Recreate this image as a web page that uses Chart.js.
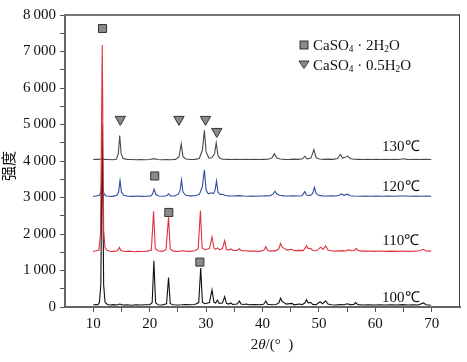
<!DOCTYPE html>
<html>
<head>
<meta charset="utf-8">
<script src="https://cdn.jsdelivr.net/npm/chart.js@4"></script>
<style>
  html, body { margin: 0; padding: 0; background: #fff; }
  #wrap { width: 467px; height: 362px; }
</style>
</head>
<body>
<div id="wrap"><canvas id="myChart" width="467" height="362"></canvas></div>
<script>
// 2theta / intensity pairs, one pair of arrays per temperature
const angles100 = [10.0,10.4,10.8,11.1,11.35,11.6,11.85,12.1,12.5,13.0,13.6,14.2,14.7,15.2,16.0,16.8,17.6,18.4,19.2,20.0,20.45,20.75,21.05,21.5,22.2,23.0,23.35,23.65,24.2,25.0,25.7,26.4,27.2,28.0,28.7,29.05,29.35,29.8,30.6,31.05,31.4,31.7,32.0,32.3,32.9,33.3,33.6,34.0,34.4,34.7,35.5,35.9,36.2,36.7,37.1,37.6,38.5,39.4,40.2,40.6,40.9,41.6,42.4,42.9,43.2,43.5,43.8,44.2,45.2,45.6,46.5,47.0,47.5,47.8,48.1,48.5,48.9,49.5,50.2,50.6,51.2,51.6,52.2,53.0,53.8,54.5,55.0,55.5,56.2,56.5,56.9,57.8,58.8,59.8,60.8,61.8,62.8,63.8,64.8,65.8,66.8,67.6,68.5,69.0,69.8];
const counts100 = [55,70,60,120,600,5000,600,130,70,55,65,55,80,55,60,50,60,55,60,65,120,1265,120,60,55,90,805,90,60,55,60,70,60,70,120,1065,130,90,120,470,130,110,190,100,110,285,100,80,110,70,80,165,80,70,80,60,65,60,75,165,75,60,70,110,240,150,120,80,100,60,80,65,110,200,110,130,70,65,145,90,165,80,60,55,65,60,90,65,70,120,65,55,60,55,60,55,60,55,65,55,60,55,110,60,50];

const angles110 = [10.0,10.5,11.0,11.3,11.6,11.85,12.1,12.5,13.2,14.0,14.4,14.65,14.9,15.6,16.4,17.2,18.0,18.8,19.6,20.3,20.7,21.0,21.5,22.2,22.9,23.35,23.65,24.2,25.0,25.6,26.4,27.2,28.0,28.6,29.0,29.3,29.8,30.6,31.05,31.4,31.7,32.0,32.4,32.9,33.3,33.6,34.0,34.4,34.8,35.5,35.9,36.3,37.0,37.8,38.6,39.4,40.2,40.6,40.9,41.6,42.4,42.9,43.2,43.5,43.9,44.3,45.2,45.6,46.5,47.2,47.5,47.8,48.1,48.5,48.9,49.6,50.3,50.7,51.2,51.6,52.4,53.2,54.0,54.8,55.2,55.7,56.3,56.6,57.0,57.8,58.8,59.8,60.8,61.8,62.8,63.8,64.8,65.8,66.8,67.8,68.5,69.0,69.9];
const counts110 = [1525,1540,1560,2000,7175,2100,1620,1545,1520,1530,1560,1630,1550,1520,1530,1515,1525,1520,1530,1560,2620,1600,1540,1525,1570,2455,1590,1530,1520,1540,1530,1525,1540,1600,2640,1620,1570,1600,1920,1610,1580,1620,1570,1600,1820,1580,1560,1590,1550,1550,1600,1545,1540,1530,1535,1525,1550,1650,1550,1530,1545,1600,1740,1640,1600,1560,1580,1540,1550,1545,1600,1675,1600,1610,1550,1540,1640,1580,1670,1560,1535,1530,1545,1535,1570,1540,1550,1610,1545,1530,1535,1525,1535,1525,1530,1525,1535,1525,1530,1540,1580,1535,1530];

const angles120 = [10.0,10.6,11.1,11.35,11.6,11.85,12.2,12.8,13.5,14.2,14.5,14.75,15.0,15.4,16.2,17.0,17.8,18.6,19.4,20.2,20.5,20.8,21.1,21.6,22.4,23.0,23.35,23.7,24.4,25.1,25.4,25.65,25.9,26.4,27.2,28.0,28.8,29.35,29.7,30.0,30.4,30.9,31.3,31.6,31.85,32.1,32.5,32.9,33.4,34.2,35.0,35.8,36.6,37.4,38.2,39.0,39.8,40.6,41.4,41.9,42.2,42.5,43.0,43.8,44.6,45.4,46.2,47.0,47.5,47.8,48.5,48.9,49.2,49.5,49.9,50.6,51.4,52.2,53.0,53.6,54.0,54.4,55.1,55.5,56.3,57.2,58.2,59.2,60.2,61.2,62.2,63.2,64.2,65.2,66.2,67.2,68.2,69.0,69.9];
const counts120 = [3030,3040,3060,3150,3400,3130,3050,3035,3030,3060,3150,3470,3150,3060,3035,3030,3040,3030,3035,3045,3090,3225,3080,3040,3035,3050,3100,3045,3040,3090,3200,3485,3150,3060,3045,3050,3080,3300,3760,3200,3100,3130,3110,3200,3455,3150,3080,3090,3055,3045,3040,3050,3040,3035,3040,3035,3040,3045,3050,3100,3170,3100,3060,3045,3040,3045,3040,3050,3160,3070,3060,3110,3280,3110,3060,3045,3040,3045,3040,3060,3100,3060,3090,3050,3040,3035,3040,3035,3040,3035,3040,3035,3040,3040,3035,3040,3035,3040,3035];

const angles130 = [10.0,10.7,11.3,11.6,11.9,12.6,13.4,14.1,14.45,14.7,14.95,15.3,16.0,16.8,17.6,18.4,19.2,20.0,20.8,21.4,22.2,23.0,23.8,24.6,25.2,25.6,25.9,26.4,27.2,28.0,28.8,29.35,29.7,30.0,30.5,31.0,31.5,31.8,32.1,32.5,33.0,33.8,34.6,35.4,36.2,37.0,37.8,38.6,39.4,40.2,41.0,41.7,42.1,42.5,43.1,43.9,44.7,45.5,46.3,47.1,47.5,47.9,48.6,49.1,49.5,50.1,50.9,51.7,52.5,53.3,53.8,54.2,54.7,55.1,55.5,56.2,57.0,57.8,58.6,59.4,60.2,61.0,61.8,62.6,63.4,64.2,65.0,65.6,66.4,67.2,68.0,68.8,69.9];
const counts130 = [4040,4045,4050,4080,4045,4040,4035,4050,4200,4700,4200,4070,4045,4040,4035,4040,4035,4040,4065,4040,4035,4040,4035,4045,4110,4470,4120,4055,4040,4045,4070,4300,4840,4250,4080,4090,4200,4500,4150,4070,4050,4045,4040,4045,4040,4045,4040,4045,4040,4045,4050,4090,4200,4090,4055,4045,4040,4050,4045,4060,4130,4060,4080,4310,4090,4055,4045,4050,4045,4070,4180,4080,4100,4140,4070,4050,4045,4040,4045,4040,4045,4040,4045,4040,4045,4040,4060,4045,4040,4045,4040,4045,4040];

// phase markers above the peaks
const dihydrateAngles = [11.65, 20.9, 23.4, 28.9];
const dihydrateLevels = [7630, 3590, 2590, 1230];
const hemihydrateAngles = [14.8, 25.2, 29.9, 31.9];
const hemihydrateLevels = [5140, 5140, 5140, 4810];

const seriesNames = ['100℃', '110℃', '120℃', '130℃'];
const xTicks = [10,15,20,25,30,35,40,45,50,55,60,65,70];

const serif = "'Liberation Serif', 'Times New Roman', serif";

function pairs(xs, ys) {
  return xs.map((x, i) => ({x: x, y: ys[i]}));
}

function lineSet(label, xs, ys, color, order) {
  return {
    type: 'line',
    label: label,
    data: pairs(xs, ys),
    borderColor: color,
    borderWidth: 1.1,
    pointRadius: 0,
    tension: 0,
    fill: false,
    order: order
  };
}

// draws text pieces, some of them as subscripts
function drawRich(c, parts, x, y, size) {
  let cx = x;
  parts.forEach(p => {
    const s = p.sub ? size * 0.62 : size;
    c.font = (p.italic ? 'italic ' : '') + s + 'px ' + serif;
    c.fillText(p.t, cx, p.sub ? y + size * 0.22 : y);
    cx += c.measureText(p.t).width;
  });
  return cx;
}

function richWidth(c, parts, size) {
  let w = 0;
  parts.forEach(p => {
    const s = p.sub ? size * 0.62 : size;
    c.font = (p.italic ? 'italic ' : '') + s + 'px ' + serif;
    w += c.measureText(p.t).width;
  });
  return w;
}

const extras = {
  id: 'extras',
  afterDraw(chart) {
    const c = chart.ctx;
    const a = chart.chartArea;
    const xs = chart.scales.x, ys = chart.scales.y;
    c.save();

    // top and right frame
    c.strokeStyle = '#777';
    c.lineWidth = 2;
    c.beginPath();
    c.moveTo(a.left, a.top);
    c.lineTo(a.right, a.top);
    c.stroke();
    c.strokeStyle = '#444';
    c.lineWidth = 1;
    c.beginPath();
    c.moveTo(a.right - 0.5, a.top);
    c.lineTo(a.right - 0.5, a.bottom);
    c.stroke();

    // legend
    c.textBaseline = 'middle';
    c.textAlign = 'left';
    const lx = 304, l1 = 45, l2 = 65;
    c.fillStyle = '#8a8a8a';
    c.strokeStyle = '#333';
    c.lineWidth = 1;
    c.fillRect(lx - 4, l1 - 4, 8, 8);
    c.strokeRect(lx - 4, l1 - 4, 8, 8);
    c.beginPath();
    c.moveTo(lx - 5, l2 - 4);
    c.lineTo(lx + 5, l2 - 4);
    c.lineTo(lx, l2 + 3.5);
    c.closePath();
    c.fill();
    c.stroke();
    c.fillStyle = '#111';
    drawRich(c, [{t: 'CaSO'}, {t: '4', sub: true}, {t: ' · 2H'}, {t: '2', sub: true}, {t: 'O'}], 313, l1 + 1, 15);
    drawRich(c, [{t: 'CaSO'}, {t: '4', sub: true}, {t: ' · 0.5H'}, {t: '2', sub: true}, {t: 'O'}], 313, l2 + 1, 15);

    // temperature labels
    const tempPos = [[64.5, 240], [64.5, 1795], [64.5, 3280], [64.5, 4370]];
    c.font = '15px ' + serif;
    c.textAlign = 'center';
    seriesNames.forEach((n, i) => {
      c.fillText(n, xs.getPixelForValue(tempPos[i][0]), ys.getPixelForValue(tempPos[i][1]));
    });

    // x axis title with italic theta
    const xt = [{t: '2'}, {t: 'θ', italic: true}, {t: '/(°  )'}];
    c.textAlign = 'left';
    const w = richWidth(c, xt, 15);
    drawRich(c, xt, 272 - w / 2, 345, 15);

    // y axis title
    c.translate(8, 166);
    c.rotate(-Math.PI / 2);
    c.textAlign = 'center';
    c.font = "15px 'Noto Sans CJK SC', sans-serif";
    c.fillText('强度', 0, 0);
    c.restore();
  }
};

const ctx = document.getElementById('myChart');

new Chart(ctx, {
  data: {
    datasets: [
      lineSet(seriesNames[1], angles110, counts110, '#e0313c', 1),
      lineSet(seriesNames[0], angles100, counts100, '#111111', 2),
      lineSet(seriesNames[2], angles120, counts120, '#2d4f9e', 3),
      lineSet(seriesNames[3], angles130, counts130, '#4a4a4a', 4),
      {
        type: 'scatter',
        label: 'CaSO4·2H2O',
        data: pairs(dihydrateAngles, dihydrateLevels),
        pointStyle: 'rect',
        pointRadius: 5.7,
        backgroundColor: '#8a8a8a',
        borderColor: '#333',
        borderWidth: 1,
        order: 0
      },
      {
        type: 'scatter',
        label: 'CaSO4·0.5H2O',
        data: pairs(hemihydrateAngles, hemihydrateLevels),
        pointStyle: 'triangle',
        pointRotation: 180,
        pointRadius: 6,
        backgroundColor: '#8a8a8a',
        borderColor: '#333',
        borderWidth: 1,
        order: 0
      }
    ]
  },
  options: {
    responsive: false,
    animation: false,
    layout: { padding: { top: 15, right: 6, left: 0, bottom: 0 } },
    plugins: {
      legend: { display: false },
      tooltip: { enabled: false }
    },
    scales: {
      x: {
        type: 'linear',
        min: 5,
        max: 75,
        afterBuildTicks: axis => { axis.ticks = xTicks.map(v => ({value: v})); },
        afterFit: axis => { axis.height = 55; },
        border: { color: '#666', width: 2 },
        grid: { drawOnChartArea: false, drawTicks: true, tickLength: 5, color: '#555' },
        ticks: {
          autoSkip: false,
          maxRotation: 0,
          padding: 3,
          color: '#111',
          font: { family: serif, size: 15 },
          callback: v => (v % 10 === 0 ? String(v) : '')
        }
      },
      y: {
        min: 0,
        max: 8000,
        afterFit: axis => { axis.width = 65; },
        border: { color: '#666', width: 2 },
        grid: { drawOnChartArea: false, drawTicks: true, tickLength: 5, color: '#555' },
        ticks: {
          stepSize: 500,
          autoSkip: false,
          padding: 4,
          color: '#111',
          font: { family: serif, size: 15 },
          callback: v => {
            if (v % 1000 !== 0) return '';
            return v === 0 ? '0' : (v / 1000) + '\u2009000';
          }
        }
      }
    }
  },
  plugins: [extras]
});
</script>
</body>
</html>
